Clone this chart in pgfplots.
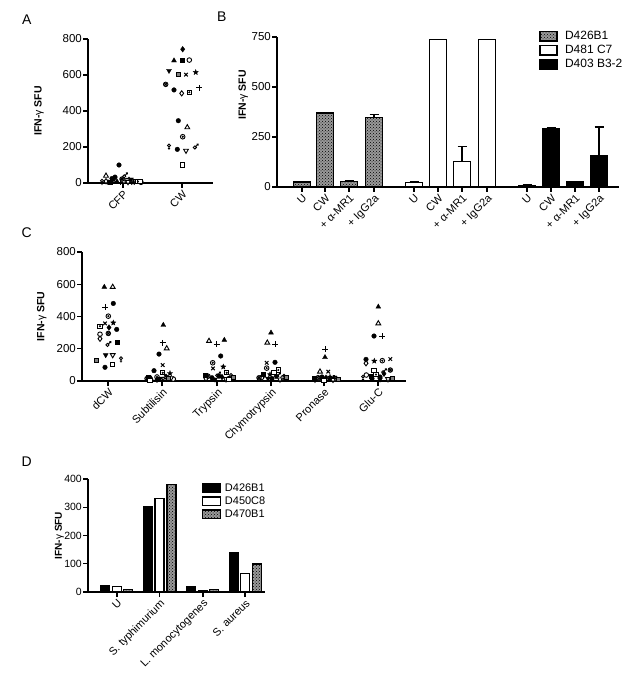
\documentclass[border=0pt]{standalone}
\usepackage{pgfplots}
\pgfplotsset{compat=1.18}
\usepackage{fontspec}
\setmainfont{Liberation Sans}
\usetikzlibrary{patterns}
\pgfdeclareplotmark{fstar}{%
  \pgfpathmoveto{\pgfpointpolar{90}{\pgfplotmarksize}}%
  \pgfpathlineto{\pgfpointpolar{126}{0.42\pgfplotmarksize}}%
  \pgfpathlineto{\pgfpointpolar{162}{\pgfplotmarksize}}%
  \pgfpathlineto{\pgfpointpolar{198}{0.42\pgfplotmarksize}}%
  \pgfpathlineto{\pgfpointpolar{234}{\pgfplotmarksize}}%
  \pgfpathlineto{\pgfpointpolar{270}{0.42\pgfplotmarksize}}%
  \pgfpathlineto{\pgfpointpolar{306}{\pgfplotmarksize}}%
  \pgfpathlineto{\pgfpointpolar{342}{0.42\pgfplotmarksize}}%
  \pgfpathlineto{\pgfpointpolar{18}{\pgfplotmarksize}}%
  \pgfpathlineto{\pgfpointpolar{54}{0.42\pgfplotmarksize}}%
  \pgfpathclose\pgfusepathqfillstroke}
\pgfdeclareplotmark{female}{%
  \pgfpathcircle{\pgfpoint{0pt}{0.45\pgfplotmarksize}}{0.55\pgfplotmarksize}%
  \pgfpathmoveto{\pgfpoint{0pt}{-0.1\pgfplotmarksize}}%
  \pgfpathlineto{\pgfpoint{0pt}{-1.2\pgfplotmarksize}}%
  \pgfpathmoveto{\pgfpoint{-0.4\pgfplotmarksize}{-0.65\pgfplotmarksize}}%
  \pgfpathlineto{\pgfpoint{0.4\pgfplotmarksize}{-0.65\pgfplotmarksize}}%
  \pgfusepathqstroke}
\pgfdeclareplotmark{male}{%
  \pgfpathcircle{\pgfpoint{-0.3\pgfplotmarksize}{-0.3\pgfplotmarksize}}{0.55\pgfplotmarksize}%
  \pgfpathmoveto{\pgfpoint{0.1\pgfplotmarksize}{0.1\pgfplotmarksize}}%
  \pgfpathlineto{\pgfpoint{0.9\pgfplotmarksize}{0.9\pgfplotmarksize}}%
  \pgfpathmoveto{\pgfpoint{0.35\pgfplotmarksize}{0.9\pgfplotmarksize}}%
  \pgfpathlineto{\pgfpoint{0.9\pgfplotmarksize}{0.9\pgfplotmarksize}}%
  \pgfpathlineto{\pgfpoint{0.9\pgfplotmarksize}{0.35\pgfplotmarksize}}%
  \pgfusepathqstroke}
\pgfplotsset{
  gp/.style={
    scale only axis, axis lines=left, axis line style={-, line width=1.5pt},
    enlargelimits=false, clip=false,
    tick align=outside, major tick length=5pt,
    tick style={black, line width=1.3pt},
    /pgf/number format/assume math mode=true,
    scaled y ticks=false,
    yticklabel style={font=\fontsize{11.5}{13}\selectfont, inner sep=1pt},
    xticklabel style={font=\fontsize{11}{13}\selectfont, rotate=45, anchor=north east, inner sep=1pt},
  },
  mk/.style={only marks, black, mark size=2.3pt},
  fem/.style={mk, mark=female, mark size=2.6pt, mark options={line width=0.9pt, fill=white}},
  mal/.style={mk, mark=male, mark size=2.8pt, mark options={line width=0.9pt}},
  stm/.style={mk, mark=fstar, mark size=2.8pt, mark options={line width=0.3pt}},
  gpat/.style={fill=gray!80, postaction={pattern=crosshatch dots, pattern color=black}},
  gbar/.style={ybar, bar shift=0pt, draw=black, line width=1.3pt,
    error bars/y dir=plus, error bars/y explicit,
    error bars/error bar style={black, line width=1.3pt},
    error bars/error mark options={black, rotate=90, mark size=4.5pt, line width=1.3pt}},
}
\newcommand{\ylab}{IFN-{\mdseries γ} SFU}
\begin{document}
\begin{tikzpicture}
\useasboundingbox (0,0) rectangle (639pt,-684pt);
\node[font=\fontsize{14}{14}\selectfont] at (26.7pt,-20pt) {A};
\node[font=\fontsize{14}{14}\selectfont] at (221.7pt,-16.7pt) {B};
\node[font=\fontsize{14}{14}\selectfont] at (26.7pt,-233pt) {C};
\node[font=\fontsize{14}{14}\selectfont] at (26.7pt,-461.7pt) {D};

% ---------------- A
\begin{axis}[gp, at={(88pt,-183pt)}, anchor=south west,
  width=125pt, height=144pt, xmin=88, xmax=213, ymin=0, ymax=800,
  ytick={0,200,400,600,800}, xtick={123,182}, xticklabels={CFP,CW},
  every axis y label/.style={at={(axis description cs:-0.392,0.5)}, rotate=90, anchor=center, font=\bfseries\fontsize{10.5}{12}\selectfont},
  ylabel={\ylab}]
\addplot[mk, mark=diamond*, mark size=2.8pt] coordinates {(129,18) (182.7,743)};
\addplot[mk, mark=triangle*, mark size=2.8pt] coordinates {(117,8) (174,680)};
\addplot[mk, mark=square*, mark size=2pt] coordinates {(110,3) (181.7,680)};
\addplot[mk, mark=*, mark options={fill=white, line width=0.9pt}] coordinates {(124,12) (141,4) (189.3,683)};
\addplot[mk, mark=triangle*, mark size=2.8pt, mark options={rotate=180}] coordinates {(131,20) (169,624)};
\addplot[mk, mark=square*, mark size=2pt, mark options={fill=gray, line width=0.9pt}] coordinates {(135,10) (178.3,605)};
\addplot[mk, mark=x, mark size=2.5pt, mark options={line width=1pt}] coordinates {(114,15) (186,602)};
\addplot[stm] coordinates {(133,3) (195.7,615)};
\addplot[mk, mark=otimes*, mark options={fill=gray, line width=0.8pt}] coordinates {(122,22) (165.7,548)};
\addplot[mk, mark=*] coordinates {(112,25) (115,33) (119,100) (108,5) (174,517) (178.3,346) (177.3,187)};
\addplot[mk, mark=diamond*, mark size=2.6pt, mark options={fill=white, line width=0.9pt}] coordinates {(106,10) (181.7,498)};
\addplot[mk, mark=square*, mark size=2.1pt, mark options={fill=white, line width=0.9pt}] coordinates {(138,8) (189.3,504) (140,10) (182.7,100)};
\addplot[mk, mark=*, mark size=0.8pt] coordinates {(138,8) (189.3,504)};
\addplot[mk, mark=+, mark size=3pt, mark options={line width=1pt}] coordinates {(120,4) (199.3,528)};
\addplot[mk, mark=triangle*, mark size=2.8pt, mark options={fill=white, line width=0.9pt}] coordinates {(106,40) (187.3,309)};
\addplot[mk, mark=*, mark options={fill=white, line width=0.9pt}] coordinates {(127,14) (182.7,257)};
\addplot[mk, mark=*, mark size=0.8pt] coordinates {(127,14) (182.7,257)};
\addplot[mk, mark=triangle*, mark size=2.8pt, mark options={fill=white, line width=0.9pt, rotate=180}] coordinates {(128,6) (186,180)};
\addplot[fem] coordinates {(102,6) (169,202)};
\addplot[mal] coordinates {(125,42) (195.7,202)};
\end{axis}

% ---------------- B
\begin{axis}[gp, at={(277pt,-187pt)}, anchor=south west,
  width=342pt, height=150pt, xmin=277, xmax=619, ymin=0, ymax=750,
  ytick={0,250,500,750},
  xtick={302,325,349,374,414,438,462,487,527,551,575,599},
  xticklabels={U,CW,+ α-MR1,+ IgG2a,U,CW,+ α-MR1,+ IgG2a,U,CW,+ α-MR1,+ IgG2a},
  every axis y label/.style={at={(axis description cs:-0.0985,0.613)}, rotate=90, anchor=center, font=\bfseries\fontsize{10.5}{12}\selectfont},
  ylabel={\ylab},
  legend style={at={(axis cs:539,788)}, anchor=north west, draw=none, fill=none,
    font=\fontsize{12}{14}\selectfont, row sep=0pt, inner sep=0pt,
    nodes={inner sep=1.5pt, text height=8.5pt, text depth=2.5pt}},
  legend cell align=left,
  legend image code/.code={\draw[#1, line width=1.3pt] (0pt,-4.5pt) rectangle (17pt,5pt); \path (23pt,0pt);}]
\addplot[gbar, bar width=17pt, gpat] table[x=x, y=y, y error plus=e, row sep=\\] {
x y e\\ 302 25 3\\ 325 370 3\\ 349 27 3\\ 374 347 15\\};
\addlegendentry{D426B1}
\addplot[gbar, bar width=17pt, fill=white] table[x=x, y=y, y error plus=e, row sep=\\] {
x y e\\ 414 24 3\\ 438 737 2\\ 462 128 75\\ 487 737 2\\};
\addlegendentry{D481 C7}
\addplot[gbar, bar width=17pt, fill=black] table[x=x, y=y, y error plus=e, row sep=\\] {
x y e\\ 527 8 2\\ 551 292 4\\ 575 25 2\\ 599 155 145\\};
\addlegendentry{D403 B3-2}
\end{axis}

% ---------------- C
\begin{axis}[gp, at={(82pt,-381pt)}, anchor=south west,
  width=324pt, height=129pt, xmin=82, xmax=406, ymin=0, ymax=800,
  ytick={0,200,400,600,800},
  xtick={108,162,217,271,324,378},
  xticklabels={dCW,Subtilisin,Trypsin,Chymotrypsin,Pronase,Glu-C},
  every axis y label/.style={at={(axis description cs:-0.124,0.5)}, rotate=90, anchor=center, font=\bfseries\fontsize{10.5}{12}\selectfont},
  ylabel={\ylab}]
\addplot[mk, mark=triangle*, mark size=2.8pt] coordinates {(104.3,583) (163.3,347) (224.3,254) (271,299) (325,147) (378.3,460)};
\addplot[mk, mark=triangle*, mark size=2.8pt, mark options={fill=white, line width=0.9pt}] coordinates {(112.7,583) (166.7,202) (209,248) (267.3,237) (320,58) (378.3,357)};
\addplot[mk, mark=+, mark size=3pt, mark options={line width=1pt}] coordinates {(105,456) (162.7,237) (216.7,227) (275,227) (325,196) (382.3,279)};
\addplot[mk, mark=*] coordinates {(113.3,481) (116.7,320) (105,85) (159,167) (154,64) (220.7,155) (275,116) (374,279) (366,134)
  (150,20) (158,10) (212,20) (219,30) (262,25) (272,15) (316,15) (322,25) (330,10) (372,15) (380,25)};
\addplot[mk, mark=*, mark options={fill=white, line width=0.9pt}] coordinates {(108.3,402) (157,25) (212.7,113) (266.7,80) (318,20) (382.3,126)};
\addplot[mk, mark=*, mark size=0.8pt] coordinates {(108.3,402) (157,25) (212.7,113) (266.7,80) (318,20) (382.3,126)};
\addplot[mk, mark=square*, mark size=2.1pt, mark options={fill=white, line width=0.9pt}] coordinates {(100,340) (162.7,51) (226.7,51) (278.3,68) (320,10) (376,40)};
\addplot[mk, mark=*, mark size=0.8pt] coordinates {(100,340) (162.7,51) (226.7,51) (278.3,68) (320,10) (376,40)};
\addplot[mk, mark=x, mark size=2.5pt, mark options={line width=1pt}] coordinates {(105,357) (162.7,99) (213,78) (266.7,113) (328.3,58) (390.3,136)};
\addplot[mk, mark=diamond*, mark size=2.8pt] coordinates {(109,332) (157,8) (222,25) (276,30) (326,20) (384,45)};
\addplot[stm] coordinates {(113.3,361) (170,47) (223.3,88) (270,40) (330,25) (374.3,124)};
\addplot[mk, mark=*, mark options={fill=white, line width=0.9pt}] coordinates {(100,290) (173.3,12) (229,15) (283,20) (335,12) (366.3,37)};
\addplot[mk, mark=diamond*, mark size=2.6pt, mark options={fill=white, line width=0.9pt}] coordinates {(100,262) (151,10) (206,15) (262,20) (315,8) (366,110)};
\addplot[mk, mark=otimes*, mark options={fill=gray, line width=0.8pt}] coordinates {(108.3,295) (147,15) (208,30) (259,20) (319,15) (390.3,68)};
\addplot[mal] coordinates {(108.3,229) (164,20) (218,40) (278,35) (332,18) (384,60)};
\addplot[mk, mark=square*, mark size=2pt] coordinates {(116.7,243) (148,25) (205,37) (263,45) (314,20) (371,30)};
\addplot[mk, mark=triangle*, mark size=2.8pt, mark options={rotate=180}] coordinates {(105.7,161) (160,15) (215,10) (268,15) (322,12) (380,10)};
\addplot[mk, mark=triangle*, mark size=2.8pt, mark options={fill=white, line width=0.9pt, rotate=180}] coordinates {(112.7,161) (171,18) (226,12) (280,10) (333,8) (388,12)};
\addplot[fem] coordinates {(121,134) (166,25) (231,30) (284,25) (336,15) (363,20)};
\addplot[mk, mark=square*, mark size=2pt, mark options={fill=gray, line width=0.9pt}] coordinates {(96.7,130) (168,15) (233,25) (286,22) (338,10) (392,15)};
\addplot[mk, mark=square*, mark size=2.1pt, mark options={fill=white, line width=0.9pt}] coordinates {(112.7,103) (150,5) (229,10) (274,55) (324,5) (374,64)};
\end{axis}

% ---------------- D
\begin{axis}[gp, at={(88pt,-592pt)}, anchor=south west,
  width=177pt, height=113pt, xmin=88, xmax=265, ymin=0, ymax=400,
  ytick={0,100,200,300,400},
  yticklabel style={font=\fontsize{10.5}{12}\selectfont, inner sep=1pt},
  xtick={117,159.5,203,245},
  xticklabels={U,S. typhimurium,L. monocytogenes,S. aureus},
  every axis y label/.style={at={(axis description cs:-0.162,0.5)}, rotate=90, anchor=center, font=\bfseries\fontsize{10}{12}\selectfont},
  ylabel={\ylab},
  legend style={at={(axis cs:202,390)}, anchor=north west, draw=none, fill=none,
    font=\fontsize{11}{13}\selectfont, row sep=0pt, inner sep=0pt,
    nodes={inner sep=1.5pt, text height=8pt, text depth=2pt}},
  legend cell align=left,
  legend image code/.code={\draw[#1, line width=1.2pt] (0pt,-4pt) rectangle (18pt,4.5pt); \path (20pt,0pt);}]
\addplot[gbar, bar width=9pt, fill=black] table[x=x, y=y, y error plus=e, row sep=\\] {
x y e\\ 105 21 0\\ 148 302 0\\ 191 19 0\\ 234 140 0\\};
\addlegendentry{D426B1}
\addplot[gbar, bar width=9pt, fill=white] table[x=x, y=y, y error plus=e, row sep=\\] {
x y e\\ 117 19 0\\ 159.5 332 0\\ 203 5 0\\ 245 65 0\\};
\addlegendentry{D450C8}
\addplot[gbar, bar width=9pt, gpat] table[x=x, y=y, y error plus=e, row sep=\\] {
x y e\\ 128 9 0\\ 171.6 380 0\\ 214 8 0\\ 257 99 0\\};
\addlegendentry{D470B1}
\end{axis}
\end{tikzpicture}
\end{document}
